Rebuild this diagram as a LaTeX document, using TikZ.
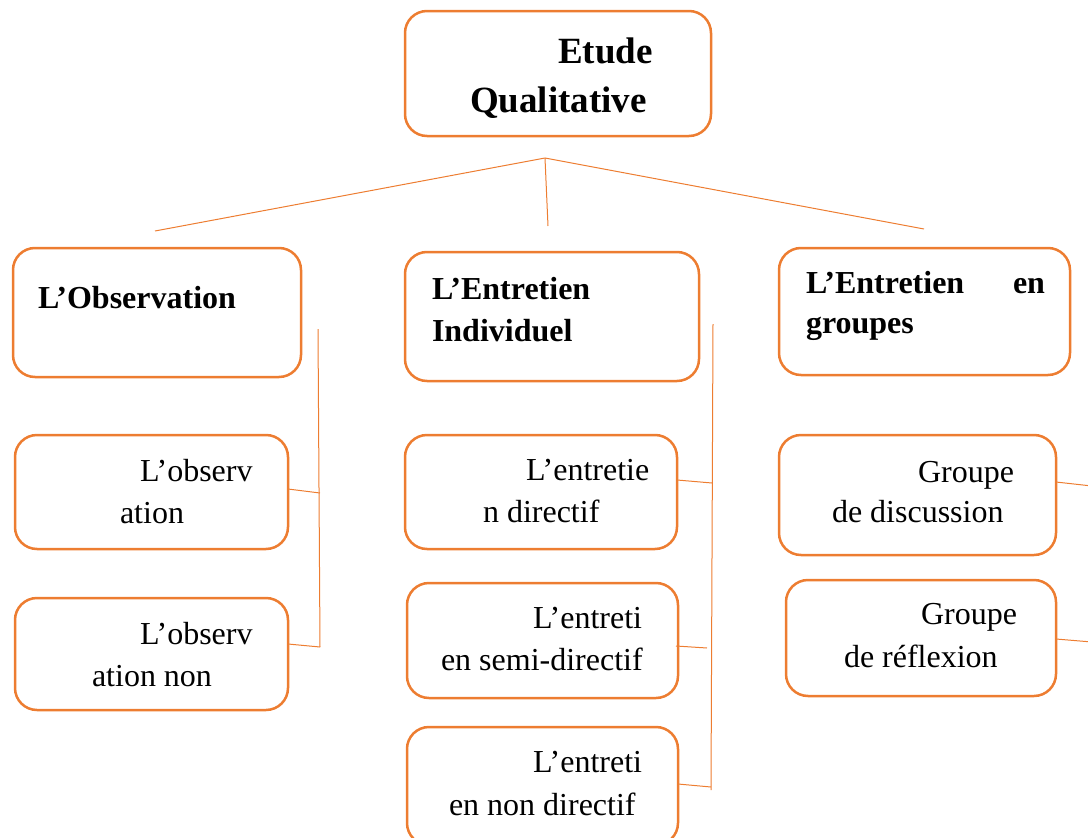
\documentclass[tikz,border=0pt]{standalone}
\usepackage{fontspec}
\setmainfont{Liberation Serif}
\definecolor{accent}{HTML}{ED7D31}
\begin{document}
\begin{tikzpicture}[x=1pt,y=-1pt,
  box/.style={draw=accent, line width=2.5pt, rounded corners=22pt, rectangle,
    inner sep=0pt, outer sep=0pt},
  link/.style={draw=accent, line width=1pt},
  lbl/.style={anchor=base west, inner sep=0pt, outer sep=0pt,
    font=\fontsize{32}{38}\selectfont},
  lblb/.style={lbl, font=\fontsize{32}{38}\selectfont\bfseries},
  lbltop/.style={lbl, font=\fontsize{37}{44}\selectfont\bfseries}]
\useasboundingbox (0,0) rectangle (1088,838);
\clip (0,0) rectangle (1088,838);

% boxes
\node[box, minimum width=306pt, minimum height=125pt] (top) at (558,73.5) {};
\node[box, minimum width=288pt, minimum height=129pt] (obs) at (157,312.5) {};
\node[box, minimum width=294pt, minimum height=129pt] (ind) at (552,316.5) {};
\node[box, minimum width=291pt, minimum height=127pt] (grp) at (924.5,311.5) {};
\node[box, minimum width=273pt, minimum height=114pt] (obsA) at (151.5,492) {};
\node[box, minimum width=273pt, minimum height=112pt] (obsB) at (151.5,654) {};
\node[box, minimum width=272pt, minimum height=114pt] (entA) at (541,492) {};
\node[box, minimum width=271pt, minimum height=115pt] (entB) at (542.5,640.5) {};
\node[box, minimum width=271pt, minimum height=118pt] (entC) at (542.5,786) {};
\node[box, minimum width=277pt, minimum height=120pt] (grpA) at (917.5,495) {};
\node[box, minimum width=270pt, minimum height=116pt] (grpB) at (921,638) {};

% texts
\node[lbltop] (t1) at (558,63) {Etude};
\node[lbltop] (t2) at (470,112) {Qualitative};
\node[lblb] (o1) at (38,308) {L’Observation};
\node[lblb] (i1) at (432,299) {L’Entretien};
\node[lblb] (i2) at (432,341) {Individuel};
\node[lblb] (g1) at (806,293) {L’Entretien};
\node[lblb] (g2) at (1013,293) {en};
\node[lblb] (g3) at (806,333) {groupes};
\node[lbl] (a1) at (140,481) {L’observ};
\node[lbl] (a2) at (120,523) {ation};
\node[lbl] (b1) at (140,644) {L’observ};
\node[lbl] (b2) at (92,686) {ation non};
\node[lbl] (c1) at (526,480) {L’entretie};
\node[lbl] (c2) at (483,522) {n directif};
\node[lbl] (d1) at (533,628) {L’entreti};
\node[lbl] (d2) at (441,670) {en semi-directif};
\node[lbl] (e1) at (533,772) {L’entreti};
\node[lbl] (e2) at (449,815) {en non directif};
\node[lbl] (f1) at (918,482) {Groupe};
\node[lbl] (f2) at (832,522) {de discussion};
\node[lbl] (h1) at (921,624) {Groupe};
\node[lbl] (h2) at (844,667) {de réflexion};

% tree branches below the root
\coordinate (apex) at (545,158);
\coordinate (brL) at (155,231);
\coordinate (brM) at (548,226);
\coordinate (brR) at (924,229);
\draw[link] (apex) -- (brL);
\draw[link] (apex) -- (brM);
\draw[link] (apex) -- (brR);

% left column bracket
\coordinate (lvTop) at (318,329);
\coordinate (lvBot) at (320,647);
\coordinate (lvA) at (320,493);
\draw[link] (lvTop) -- (lvBot);
\draw[link] ([yshift=3pt]obsA.east) -- (lvA);
\draw[link] ([yshift=10pt]obsB.east) -- (lvBot);

% middle column bracket
\coordinate (mvTop) at (713,324);
\coordinate (mvBot) at (711,790);
\coordinate (mvA) at (712,483);
\coordinate (mvB) at (707,648);
\coordinate (mvC) at (711,787);
\draw[link] (mvTop) -- (mvBot);
\draw[link] ([yshift=12pt]entA.east) -- (mvA);
\draw[link] ([xshift=-2pt,yshift=-5.5pt]entB.east) -- (mvB);
\draw[link] ([yshift=2pt]entC.east) -- (mvC);

% right column links leaving the frame
\coordinate (rvA) at (1092,486);
\coordinate (rvB) at (1092,642);
\draw[link] ([yshift=13pt]grpA.east) -- (rvA);
\draw[link] ([yshift=-1pt]grpB.east) -- (rvB);
\end{tikzpicture}
\end{document}
